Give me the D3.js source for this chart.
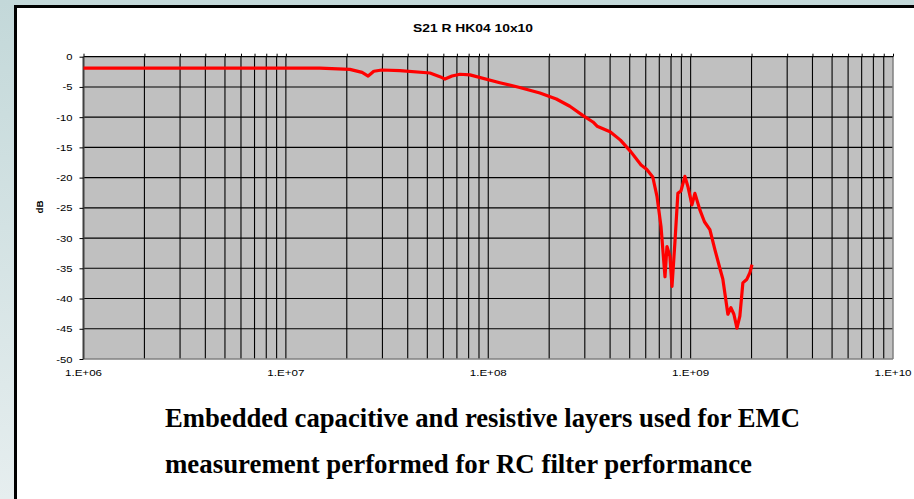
<!DOCTYPE html>
<html><head><meta charset="utf-8">
<script src="https://cdn.jsdelivr.net/npm/d3@7"></script>
<style>
html,body{margin:0;padding:0;background:#fff;}
svg{display:block;}
</style></head>
<body>
<svg id="c" width="914" height="499"></svg>
<script>
const chartTitle = "S21 R HK04 10x10";
const yLabel = "dB";
const caption = ["Embedded capacitive and resistive layers used for EMC",
                 "measurement performed for RC filter performance"];
const xTickValues = [1e6, 1e7, 1e8, 1e9, 1e10];
const xTickLabels = ["1.E+06", "1.E+07", "1.E+08", "1.E+09", "1.E+10"];
const yTickValues = [0, -5, -10, -15, -20, -25, -30, -35, -40, -45, -50];

const freq = [1e6, 1.47e7, 2.07e7, 2.38e7, 2.55e7, 2.72e7, 2.98e7, 3.66e7, 5.15e7, 5.77e7,
  6.11e7, 6.62e7, 7.25e7, 8.12e7, 1.14e8, 1.43e8, 1.80e8, 2.17e8, 2.53e8, 2.93e8,
  3.29e8, 3.45e8, 4.0e8, 4.5e8, 5.06e8, 5.69e8, 6.06e8, 6.50e8, 6.82e8, 7.14e8,
  7.47e8, 7.64e8, 7.90e8, 8.09e8, 8.36e8, 8.65e8, 8.96e8, 9.37e8, 9.70e8, 1.015e9,
  1.05e9, 1.11e9, 1.17e9, 1.245e9, 1.318e9, 1.40e9, 1.443e9, 1.528e9, 1.581e9, 1.636e9,
  1.694e9, 1.751e9, 1.812e9, 1.897e9, 1.963e9, 2.01e9];
const s21 = [-1.9, -1.9, -2.1, -2.6, -3.2, -2.4, -2.2, -2.3, -2.7, -3.3,
  -3.7, -3.2, -2.9, -3.0, -4.3, -5.1, -6.0, -7.0, -8.2, -9.7,
  -10.8, -11.5, -12.4, -13.8, -15.7, -17.9, -18.6, -19.9, -23.1, -28.1,
  -36.4, -31.4, -33.0, -38.0, -30.8, -22.6, -22.2, -19.8, -21.5, -24.5,
  -22.6, -25.3, -27.3, -28.6, -31.9, -35.2, -36.8, -42.6, -41.5, -42.6,
  -44.9, -42.9, -37.4, -36.8, -35.7, -34.4];

const svg = d3.select("#c");
const W = 914, H = 499;
const SANS = "Arial, 'Liberation Sans', sans-serif";

function stretch(sel, k) {
  sel.each(function() {
    const n = this.getComputedTextLength();
    this.setAttribute("textLength", n * k);
    this.setAttribute("lengthAdjust", "spacingAndGlyphs");
  });
}

const defs = svg.append("defs");
const g1 = defs.append("linearGradient").attr("id","bg").attr("x1","0").attr("y1","0").attr("x2","0").attr("y2","1");
g1.append("stop").attr("offset","0").attr("stop-color","#c3d8d9");
g1.append("stop").attr("offset","1").attr("stop-color","#e6eeef");
svg.append("rect").attr("width",W).attr("height",H).attr("fill","url(#bg)");

svg.append("rect").attr("x",15.5).attr("y",6.5).attr("width",W+20).attr("height",H+20)
  .attr("fill","#fff").attr("stroke","#000").attr("stroke-width",3);

const L = 83.5, R = 893, T = 56.7, B = 359;
const x = d3.scaleLog().domain([1e6, 1e10]).range([L, R]);
const y = d3.scaleLinear().domain([-50, 0]).range([B, T]);

svg.append("rect").attr("x",L).attr("y",T).attr("width",R-L).attr("height",B-T).attr("fill","#c0c0c0");

const vGrid = [];
for (let e = 6; e < 10; e++) for (let m = 1; m < 10; m++) vGrid.push(m * Math.pow(10, e));
vGrid.push(1e10);

const grid = svg.append("g");
grid.selectAll("line.v").data(vGrid.filter(v => v > 1e6 && v < 1e10)).join("line")
  .attr("x1", d => x(d)).attr("x2", d => x(d)).attr("y1", T).attr("y2", B)
  .attr("stroke", "#000").attr("stroke-width", 1.1);
grid.selectAll("line.h").data(yTickValues.filter(v => v > -50 && v < 0)).join("line")
  .attr("x1", L).attr("x2", R).attr("y1", d => y(d)).attr("y2", d => y(d))
  .attr("stroke", "#000").attr("stroke-width", 1.1);

svg.append("line").attr("x1",L).attr("x2",R).attr("y1",B).attr("y2",B).attr("stroke","#808080").attr("stroke-width",1.5);
svg.append("line").attr("x1",R).attr("x2",R).attr("y1",T).attr("y2",B).attr("stroke","#808080").attr("stroke-width",1.5);

const xAxis = d3.axisTop(x).tickValues(vGrid).tickSize(3).tickFormat("");
const xa = svg.append("g").attr("transform", `translate(0,${T})`).call(xAxis);
xa.select(".domain").attr("stroke","#000").attr("stroke-width",1.2).attr("d", `M${L},0H${R}`);
xa.selectAll(".tick line").attr("stroke","#000");

svg.append("g").selectAll("text").data(xTickValues).join("text")
  .attr("x", d => x(d)).attr("y", 376).attr("text-anchor","middle")
  .attr("font-family",SANS).attr("font-size", 9.5).attr("fill","#000")
  .text((d,i) => xTickLabels[i])
  .call(stretch, 1.22);

const yAxis = d3.axisLeft(y).tickValues(yTickValues).tickSize(4).tickPadding(7).tickFormat(d => String(d));
const ya = svg.append("g").attr("transform", `translate(${L},0)`).call(yAxis);
ya.select(".domain").attr("stroke","#404040").attr("stroke-width",2).attr("d", `M0,${T}V${B}`);
ya.selectAll(".tick line").attr("stroke","#000");
ya.selectAll(".tick text").attr("font-family",SANS).attr("font-size", 9.5).attr("fill","#000")
  .call(stretch, 1.18);

svg.append("text").attr("x", 473).attr("y", 32).attr("text-anchor","middle")
  .attr("font-family",SANS).attr("font-weight","bold").attr("font-size",10.5)
  .text(chartTitle)
  .attr("textLength", 120).attr("lengthAdjust","spacingAndGlyphs");

svg.append("text").attr("transform","translate(43,207) rotate(-90)").attr("text-anchor","middle")
  .attr("font-family",SANS).attr("font-weight","bold").attr("font-size",9)
  .text(yLabel)
  .attr("textLength", 13).attr("lengthAdjust","spacingAndGlyphs");

const data = freq.map((f,i) => ({f, v: s21[i]}));
svg.append("path").datum(data)
  .attr("d", d3.line().x(d => x(d.f)).y(d => y(d.v)))
  .attr("fill","none").attr("stroke","#ff0000").attr("stroke-width",3.2).attr("stroke-linejoin","round");

const capLen = [635, 587];
svg.append("g").selectAll("text").data(caption).join("text")
  .attr("x", 165).attr("y", (d,i) => i === 0 ? 426.5 : 473)
  .attr("font-family","'Liberation Serif', 'Times New Roman', serif").attr("font-weight","bold").attr("font-size",27.5)
  .attr("fill","#000")
  .text(d => d)
  .attr("textLength", (d,i) => capLen[i]).attr("lengthAdjust","spacingAndGlyphs");
</script>
</body></html>
